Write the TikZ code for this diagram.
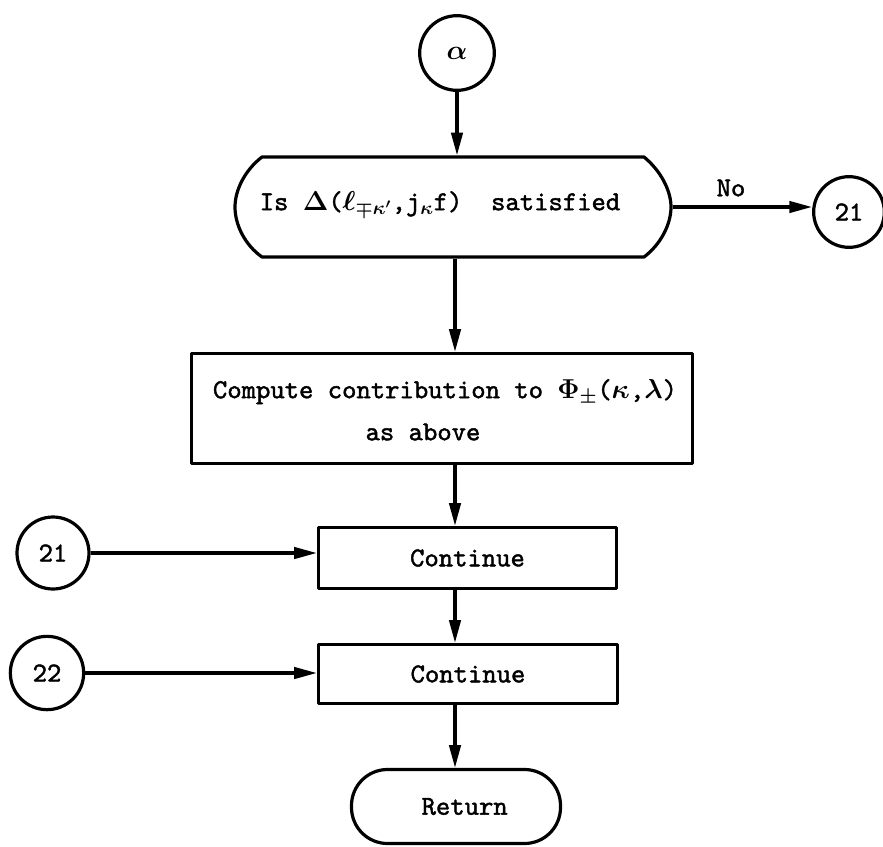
\RequirePackage{fix-cm}
\documentclass[tikz,border=0pt]{standalone}
\usepackage{fontspec}
\setmonofont{lmmono10-regular.otf}[FakeBold=1.6]
\usetikzlibrary{arrows.meta}

\begin{document}
\begin{tikzpicture}[x=0.75pt,y=-0.75pt,
  line width=2.4pt, line join=round,
  txt/.style={font=\fontsize{20.5}{24}\selectfont\ttfamily\boldmath, inner sep=0pt},
  conn/.style={draw, circle, inner sep=0pt, minimum size=#1, txt},
  box/.style={draw, rectangle, inner sep=0pt, txt},
  arr/.style={-{Triangle[length=17pt,width=8.5pt]}},
]
\useasboundingbox (0,0) rectangle (883,847);

% connectors (off-page labels)
\node[conn=56pt] (alpha) at (457,53) {$\alpha$};
\node[conn=53pt] (c21r) at (849,212) {21};
\node[conn=54pt] (c21l) at (53,553) {21};
\node[conn=55pt] (c22)  at (47,673) {22};

% decision: flat top and bottom, bowed sides
\node[inner sep=0pt, minimum width=327pt, minimum height=75pt] (dec) at (453,207) {};
\draw[shift={(dec.center)}]
  (-191,-50) -- (191,-50)
  .. controls (207,-37) and (218,-17) .. (218,0)
  .. controls (218,18) and (207,38) .. (191,50)
  -- (-191,50)
  .. controls (-208,38) and (-218,18) .. (-218,0)
  .. controls (-218,-17) and (-208,-37) .. (-191,-50) -- cycle;
\node[txt] (dectext) at (440,204)
  {Is $\Delta$($\ell_{\mp\kappa'}$,j$_{\kappa}$f)~~satisfied};

% process boxes
\node[box, minimum width=375.75pt, minimum height=82.5pt] (box1) at (442,408.5) {};
\node[txt] (line1) at (445,392)
  {Compute contribution to $\Phi_{\pm}$($\kappa$,$\lambda$)};
\node[txt] (line2) at (423,432) {as above};

\node[box, minimum width=223.5pt, minimum height=45.75pt] (box2) at (467.5,558) {Continue};
\node[box, minimum width=224.25pt, minimum height=44.25pt] (box3) at (468,674) {Continue};

% terminal
\node[draw, txt, rounded corners=27pt, minimum width=156.75pt, minimum height=55.5pt]
  (ret) at (456,806.5) {\hspace*{13pt}Return};

% flow lines
\coordinate (spine) at (455,0);
\draw[arr] (alpha) -- (alpha |- dec.north);
\draw[arr] (spine |- dec.south) -- (spine |- box1.north);
\draw[arr] (spine |- box1.south) -- (spine |- box2.north);
\draw[arr] (spine |- box2.south) -- (spine |- box3.north);
\draw[arr] (spine |- box3.south) -- (spine |- ret.north);

\draw[arr] (dec.east) -- (dec.east -| c21r.west);
\node[txt] (no) at (731,188) {No};

\draw[arr] (c21l) -- (c21l -| box2.west);
\draw[arr] (c22) -- (c22 -| box3.west);
\end{tikzpicture}
\end{document}
